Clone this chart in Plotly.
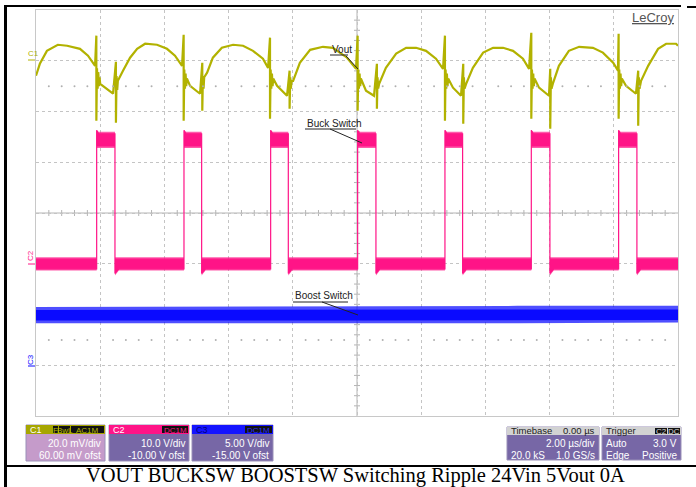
import plotly.graph_objects as go

# ---------------- data ----------------
TIME_RANGE_US = [-10, 10]          # 2.00 us/div, 10 div
C1_RANGE_MV = [-140, 20]           # 20 mV/div, 60 mV offset
C2_RANGE_V = [-30, 50]             # 10 V/div, -10 V offset
C3_RANGE_V = [-5, 35]              # 5 V/div, -15 V offset

# C1 : Vout ripple (mV)
vout_t_us = [
    -10.0, -9.88, -9.66, -9.32, -9.03, -8.63, -8.38, -8.16,
    -8.12, -8.12, -8.10, -8.08, -8.06, -8.04, -8.02, -8.00,
    -7.79, -7.60,
    -7.51, -7.51, -7.49, -7.47, -7.45,
    -7.29, -7.07, -6.85, -6.60, -6.23, -5.92, -5.67, -5.45,
    -5.40, -5.40, -5.38, -5.36, -5.34, -5.32, -5.30,
    -5.20, -4.89,
    -4.82, -4.82, -4.80, -4.78, -4.76,
    -4.67, -4.49, -4.21, -3.86, -3.55, -3.24, -2.93, -2.77,
    -2.71, -2.71, -2.69, -2.67, -2.65, -2.63, -2.61,
    -2.49, -2.18,
    -2.10, -2.10, -2.08, -2.06, -2.04,
    -1.99, -1.78, -1.46, -1.06, -0.75, -0.31, -0.03,
    0.02, 0.02, 0.04, 0.06, 0.08, 0.10, 0.12,
    0.28, 0.53,
    0.62, 0.62, 0.64, 0.66, 0.69,
    0.90, 1.22, 1.53, 1.84, 2.15, 2.46, 2.68,
    2.74, 2.74, 2.76, 2.78, 2.80, 2.82, 2.84,
    2.99, 3.24,
    3.31, 3.31, 3.33, 3.35, 3.40,
    3.61, 3.93, 4.24, 4.55, 4.86, 5.17, 5.36,
    5.43, 5.43, 5.45, 5.47, 5.49, 5.51, 5.53,
    5.67, 5.98,
    6.02, 6.02, 6.04, 6.06, 6.11,
    6.29, 6.60, 6.92, 7.35, 7.66, 7.98, 8.13,
    8.15, 8.15, 8.17, 8.19, 8.21, 8.23, 8.25,
    8.38, 8.69,
    8.76, 8.76, 8.78, 8.80, 8.85,
    9.07, 9.38, 9.63, 9.94, 10.0,
]
vout_mv = [
    -5.9, -1.2, 3.9, 6.3, 5.9, 4.7, 2.0, -2.0,
    9.9, -23.6, -3.0, -11.0, -4.5, -10.0, -6.5, -9.1,
    -11.0, -13.0,
    -0.4, -24.4, -6.0, -11.5, -7.9,
    -3.9, 1.2, 4.7, 6.7, 6.3, 4.7, 2.0, -2.0,
    10.2, -23.6, -3.5, -11.0, -5.0, -10.0, -7.0,
    -9.9, -13.0,
    -0.8, -19.7, -6.0, -11.0, -6.5,
    -4.7, 1.2, 5.1, 6.3, 5.9, 3.9, 0.8, -2.8,
    9.1, -22.9, -3.5, -11.0, -5.0, -10.0, -7.0,
    -9.9, -13.8,
    -3.9, -18.9, -6.5, -11.0, -7.9,
    -7.9, -0.8, 4.3, 5.5, 5.1, 1.2, -3.2,
    9.9, -19.7, -3.5, -11.0, -5.0, -10.0, -7.0,
    -11.8, -13.8,
    -1.2, -18.9, -6.5, -11.0, -9.1,
    -2.8, 2.8, 5.1, 5.1, 3.9, 0.8, -3.2,
    9.9, -23.6, -3.5, -11.0, -5.0, -10.0, -7.0,
    -10.6, -13.8,
    -1.2, -24.8, -6.5, -11.0, -9.1,
    -2.8, 3.2, 5.1, 5.1, 3.9, 0.8, -3.2,
    11.0, -22.9, -3.5, -11.0, -5.0, -10.0, -7.0,
    -10.6, -13.8,
    -3.2, -26.8, -6.5, -11.0, -8.7,
    -2.0, 3.9, 5.5, 5.1, 3.2, -0.8, -3.9,
    10.6, -22.9, -3.5, -11.0, -5.0, -10.0, -7.0,
    -9.9, -13.0,
    -3.9, -25.6, -6.5, -11.0, -7.9,
    -2.0, 4.7, 6.7, 6.7, 5.9,
]

# C2 : Buck switch node (V)
buck_rise_us = [-8.11, -5.39, -2.69, 0.02, 2.74, 5.43, 8.15]
buck_fall_us = [-7.54, -4.84, -2.14, 0.59, 3.29, 6.01, 8.72]
buck_low_core_v = [0.9, -1.0]        # upper / lower edge of the noise band
buck_low_fringe_v = [1.3, -1.35]
buck_high_core_v = [25.6, 23.2]
buck_high_fringe_v = [26.0, 22.8]
buck_overshoot_v = 26.3
buck_undershoot_v = -1.9
trigger_level_v = 3.0

# C3 : Boost switch node (V)
boost_t_us = [-10, -5, 0, 5, 10]
boost_core_hi_v = [5.45, 5.45, 5.45, 5.5, 5.5]
boost_core_lo_v = [4.4, 4.4, 4.4, 4.4, 4.45]
boost_fringe_hi_v = [5.75, 5.8, 5.8, 5.85, 5.85]
boost_fringe_lo_v = [4.15, 4.15, 4.15, 4.15, 4.2]

# ---------------- colours / geometry ----------------
OLIVE = "#b2b200"
PINK = "#ff1487"
BLUE = "#0a0aff"
SLATE = "#7767a6"
W, H = 696, 487
PL, PR, PT, PB = 36, 678, 10, 416


def px(x):
    return (x - PL) / (PR - PL)


def py(y):
    return (PB - y) / (PB - PT)


def envelope(hi_low, lo_low, hi_high, lo_high, over, under):
    up, dn = [(TIME_RANGE_US[0], hi_low)], [(TIME_RANGE_US[0], lo_low)]
    for r, f in zip(buck_rise_us, buck_fall_us):
        up += [(r, hi_low), (r, over), (r + 0.06, hi_high), (f, hi_high), (f, hi_low)]
        dn += [(r, lo_low), (r, lo_high), (f, lo_high), (f, under), (f + 0.12, lo_low)]
    up.append((TIME_RANGE_US[1], hi_low))
    dn.append((TIME_RANGE_US[1], lo_low))
    pts = up + dn[::-1]
    return [p[0] for p in pts], [p[1] for p in pts]


fig = go.Figure()

# C3 band
fig.add_trace(go.Scatter(
    x=boost_t_us + boost_t_us[::-1], y=boost_fringe_hi_v + boost_fringe_lo_v[::-1],
    fill="toself", fillcolor="rgba(10,10,255,0.72)", line=dict(width=0),
    mode="lines", yaxis="y3", hoverinfo="skip", showlegend=False))
fig.add_trace(go.Scatter(
    x=boost_t_us + boost_t_us[::-1], y=boost_core_hi_v + boost_core_lo_v[::-1],
    fill="toself", fillcolor=BLUE, line=dict(width=0),
    mode="lines", yaxis="y3", hoverinfo="skip", showlegend=False))

# C2 band
fx, fy = envelope(buck_low_fringe_v[0], buck_low_fringe_v[1], buck_high_fringe_v[0],
                  buck_high_fringe_v[1], buck_overshoot_v, buck_undershoot_v - 0.4)
fig.add_trace(go.Scatter(x=fx, y=fy, fill="toself", fillcolor="rgba(255,20,135,0.7)",
                         line=dict(width=0), mode="lines", yaxis="y2",
                         hoverinfo="skip", showlegend=False))
cx, cy = envelope(buck_low_core_v[0], buck_low_core_v[1], buck_high_core_v[0],
                  buck_high_core_v[1], buck_overshoot_v, buck_undershoot_v)
fig.add_trace(go.Scatter(x=cx, y=cy, fill="toself", fillcolor=PINK,
                         line=dict(width=1.2, color=PINK), mode="lines", yaxis="y2",
                         hoverinfo="skip", showlegend=False))

# C1 trace
fig.add_trace(go.Scatter(x=vout_t_us, y=vout_mv, mode="lines",
                         line=dict(color=OLIVE, width=2.2), yaxis="y",
                         hoverinfo="skip", showlegend=False))

# trigger markers
fig.add_trace(go.Scatter(x=[10.16], y=[trigger_level_v], mode="markers", yaxis="y2",
                         marker=dict(symbol="triangle-left", size=8, color=PINK),
                         cliponaxis=False, hoverinfo="skip", showlegend=False))
fig.add_trace(go.Scatter(x=[0], y=[-141.3], mode="markers", yaxis="y",
                         marker=dict(symbol="triangle-up", size=7, color=PINK),
                         cliponaxis=False, hoverinfo="skip", showlegend=False))

shapes = []
annos = []

# center cross + ticks
GRID = "#c4c4c4"
shapes.append(dict(type="line", xref="x", yref="paper", x0=0, x1=0, y0=0, y1=1,
                   line=dict(color="#b4b4b4", width=1), layer="below"))
shapes.append(dict(type="line", xref="paper", yref="paper", x0=0, x1=1, y0=0.5, y1=0.5,
                   line=dict(color="#b4b4b4", width=1), layer="below"))
for i in range(1, 50):
    t = TIME_RANGE_US[0] + i * 0.4
    if i % 5 == 0:
        continue
    shapes.append(dict(type="line", xref="x", yref="paper", x0=t, x1=t,
                       y0=0.5 - 3 / 406, y1=0.5 + 3 / 406,
                       line=dict(color="#b4b4b4", width=1), layer="below"))
for i in range(1, 40):
    if i % 5 == 0:
        continue
    yy = i / 40
    shapes.append(dict(type="line", xref="paper", yref="paper", x0=0.5 - 3 / 642,
                       x1=0.5 + 3 / 642, y0=yy, y1=yy,
                       line=dict(color="#b4b4b4", width=1), layer="below"))
# half-division dot rows
dot_x = [TIME_RANGE_US[0] + i * 0.4 for i in range(1, 50) if i % 5 != 0]
for lvl in (-10, -110):
    fig.add_trace(go.Scatter(x=dot_x, y=[lvl] * len(dot_x), mode="markers", yaxis="y",
                             marker=dict(size=2, color="#b0b0b0"),
                             hoverinfo="skip", showlegend=False))

# outer black frame lines
def pline(x0, y0, x1, y1, color="black", width=1):
    shapes.append(dict(type="line", xref="paper", yref="paper", x0=px(x0), y0=py(y0),
                       x1=px(x1), y1=py(y1), line=dict(color=color, width=width)))


pline(5, 6, 681, 6, width=2)
pline(687, 7, 696, 7, width=2)
pline(5.5, 5, 5.5, 487, width=3)
pline(5, 466, 696, 466, width=2)


def prect(x0, y0, x1, y1, fill, line=None):
    shapes.append(dict(type="rect", xref="paper", yref="paper", x0=px(x0), y0=py(y0),
                       x1=px(x1), y1=py(y1), fillcolor=fill,
                       line=dict(width=1 if line else 0, color=line or fill)))


def ptext(x, y, text, color="#ffffff", size=10, xanchor="left", family="Liberation Sans",
          angle=0):
    annos.append(dict(xref="paper", yref="paper", x=px(x), y=py(y), text=text,
                      showarrow=False, xanchor=xanchor, yanchor="middle", textangle=angle,
                      font=dict(color=color, size=size, family=family)))


# channel labels on the left
ptext(26, 53, "C1", color=OLIVE, size=8)
pline(28, 60, 35, 60, color=OLIVE, width=1)
ptext(30, 256, "C2", color=PINK, size=8, xanchor="center", angle=-90)
pline(28, 264, 35, 264, color=PINK, width=1)
ptext(30, 360, "C3", color=BLUE, size=8, xanchor="center", angle=-90)
pline(28, 366, 35, 366, color=BLUE, width=1)

# LeCroy logo
ptext(676, 17, "<u>LeCroy</u>", color="#555555", size=13, xanchor="right")

# trace labels
ptext(330, 50, "Vout", color="#222222", size=10)
pline(330, 55, 348, 55, color="#222222")
pline(346, 56, 358, 69, color="#222222")
ptext(305, 123, "Buck Switch", color="#222222", size=10)
pline(305, 129, 356, 129, color="#222222")
pline(330, 129, 362, 143, color="#222222")
ptext(293, 296, "Boost Switch", color="#222222", size=10)
pline(293, 302, 348, 302, color="#222222")
pline(322, 302, 358, 315, color="#222222")

# info boxes
def box(x0, x1, y0, yh, y1, head, body):
    prect(x0, y0, x1, y1, body, line="#9a90b8")
    prect(x0, y0, x1, yh, head)


def badge(x0, x1, y0, y1, text, color):
    prect(x0, y0, x1, y1, "#111111")
    ptext((x0 + x1) / 2, (y0 + y1) / 2 + 0.5, text, color=color, size=8, xanchor="center")


box(26, 105, 425, 434, 461, "#a6a600", "#c59bca")
ptext(28, 429.5, "C1", color="#ffffff", size=9)
badge(53, 58, 426, 433, "F", "#b8b800")
badge(59, 70, 426, 433, "BwL", "#b8b800")
badge(71, 104, 426, 433, "AC1M", "#b8b800")
ptext(103, 444, "20.0 mV/div", xanchor="right")
ptext(103, 455, "60.00 mV ofst", xanchor="right")

box(109, 189, 425, 434, 461, PINK, SLATE)
ptext(111, 429.5, "C2", color="#ffffff", size=9)
badge(162, 188, 426, 433, "DC1M", PINK)
ptext(187, 444, "10.0 V/div", xanchor="right")
ptext(187, 455, "-10.00 V ofst", xanchor="right")

box(192, 273, 425, 434, 461, "#1414ff", SLATE)
ptext(194, 429.5, "C3", color="#00007a", size=9)
badge(245, 272, 426, 433, "DC1M", "#2a2aff")
ptext(271, 444, "5.00 V/div", xanchor="right")
ptext(271, 455, "-15.00 V ofst", xanchor="right")

box(507, 599, 427, 435, 460, "#d2d2d2", SLATE)
ptext(509, 431, "Timebase", color="#222222", size=9.5)
ptext(597, 431, "0.00 µs", color="#222222", size=9.5, xanchor="right")
ptext(597, 444, "2.00 µs/div", xanchor="right")
ptext(509, 455, "20.0 kS")
ptext(597, 455, "1.0 GS/s", xanchor="right")

box(602, 681, 427, 435, 460, "#d2d2d2", SLATE)
ptext(604, 431, "Trigger", color="#222222", size=9.5)
badge(655, 667, 428, 434, "C2", "#dddddd")
badge(668, 680, 428, 434, "DC", "#dddddd")
ptext(604, 444, "Auto")
ptext(679, 444, "3.0 V", xanchor="right")
ptext(604, 455, "Edge")
ptext(679, 455, "Positive", xanchor="right")

# caption
ptext(355, 475.5, "VOUT BUCKSW BOOSTSW Switching Ripple 24Vin 5Vout 0A", color="#000000",
      size=20.5, xanchor="center", family="Liberation Serif")

axis_common = dict(showticklabels=False, ticks="", zeroline=False, fixedrange=True)
fig.update_layout(
    width=W, height=H,
    margin=dict(l=PL, r=W - PR, t=PT, b=H - PB, pad=0),
    paper_bgcolor="white", plot_bgcolor="white",
    showlegend=False,
    xaxis=dict(range=TIME_RANGE_US, dtick=2, tick0=0, showgrid=True, gridcolor=GRID,
               griddash="dot", gridwidth=1, showline=True, mirror=True,
               linecolor="#c8c8c8", linewidth=1, **axis_common),
    yaxis=dict(range=C1_RANGE_MV, dtick=20, tick0=0, showgrid=True, gridcolor=GRID,
               griddash="dot", gridwidth=1, showline=True, mirror=True,
               linecolor="#c8c8c8", linewidth=1, **axis_common),
    yaxis2=dict(range=C2_RANGE_V, overlaying="y", visible=False, fixedrange=True),
    yaxis3=dict(range=C3_RANGE_V, overlaying="y", visible=False, fixedrange=True),
    shapes=shapes,
    annotations=annos,
)

fig.write_html(
    "out.html",
    config={"displayModeBar": False},
    post_script="document.body.style.margin='0px';document.body.style.overflow='hidden';",
)
